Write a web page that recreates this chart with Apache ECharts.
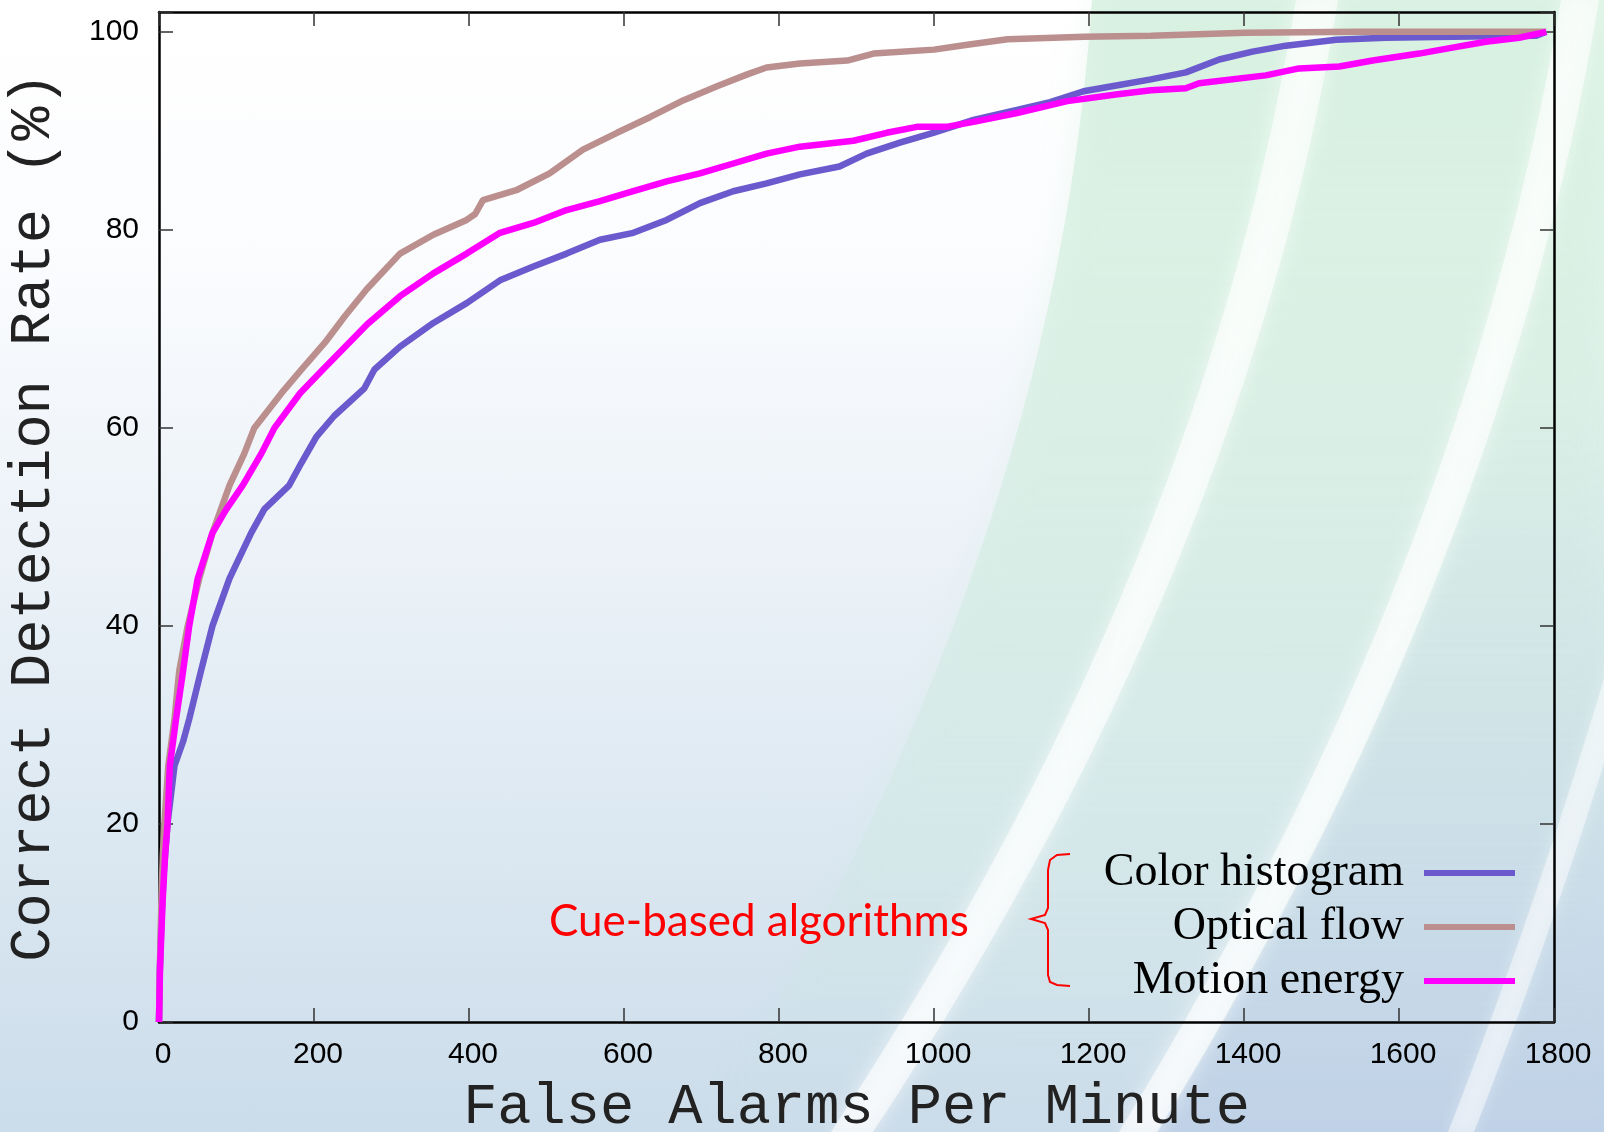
<!DOCTYPE html>
<html>
<head>
<meta charset="utf-8">
<title>Correct detection rate vs false alarms</title>
<script src="https://cdn.jsdelivr.net/npm/echarts@6/dist/echarts.min.js"></script>
<style>
  html, body { margin: 0; padding: 0; }
  #chart {
    width: 1604px;
    height: 1132px;
    background: linear-gradient(to bottom, #ffffff 0%, #fbfcfe 22%, #ecf2f8 48%, #dde9f2 72%, #cbdcea 100%);
  }
</style>
</head>
<body>
<div id="chart"></div>
<script>
// values
const seriesNames = ['Color histogram', 'Optical flow', 'Motion energy']

const colorHistX = [0, 1, 3, 6, 11, 20, 31, 39, 54, 69, 91, 119, 136, 168, 184, 203, 226, 265, 278, 311,
  354, 397, 440, 483, 526, 569, 612, 655, 698, 741, 784, 827, 878, 913, 956, 999, 1051, 1107, 1150, 1193,
  1237, 1280, 1325, 1368, 1411, 1454, 1519, 1583, 1669, 1777, 1790]
const colorHistY = [0, 5, 10, 15, 20, 25.9, 28.3, 30.6, 35.4, 40, 44.8, 49.4, 51.8, 54.2, 56.5, 59.1, 61.2, 64.0, 65.9, 68.2,
  70.6, 72.6, 74.9, 76.3, 77.6, 79.0, 79.7, 81.0, 82.7, 83.9, 84.7, 85.6, 86.4, 87.7, 88.8, 89.8, 91.1, 92.1, 92.9, 94.0,
  94.6, 95.2, 95.9, 97.2, 98.0, 98.6, 99.2, 99.4, 99.5, 99.6, 100]

const opticalX = [0, 1, 3, 5, 7, 12, 20, 26, 37, 52, 69, 91, 110, 123, 158, 184, 214, 240, 268, 311,
  354, 397, 408, 418, 461, 504, 547, 591, 634, 677, 720, 759, 784, 827, 888, 922, 1000, 1043, 1095, 1194,
  1280, 1401, 1550, 1689, 1790]
const opticalY = [0, 5, 12, 17, 20, 25.9, 30.6, 35.4, 40, 44.8, 49.4, 54.2, 57.4, 60, 63.5, 65.9, 68.6, 71.3, 74.0, 77.6,
  79.5, 81.0, 81.6, 83.0, 84.0, 85.7, 88.1, 89.8, 91.4, 93.1, 94.5, 95.7, 96.4, 96.8, 97.1, 97.8, 98.2, 98.7, 99.25, 99.5,
  99.6, 99.9, 100, 100, 100]

const motionX = [0, 1.4, 4.8, 8, 11, 14, 22, 31, 39, 50, 69, 87, 108, 132, 149, 182, 209, 239, 269, 311,
  354, 397, 440, 483, 526, 569, 612, 655, 698, 741, 784, 827, 896, 939, 978, 1016, 1051, 1107, 1172, 1237,
  1280, 1325, 1342, 1428, 1471, 1523, 1566, 1626, 1669, 1712, 1755, 1790]
const motionY = [0, 5.6, 12.4, 17, 20, 25.9, 30.6, 35.4, 40, 44.8, 49.4, 51.8, 54.2, 57.4, 60, 63.5, 65.7, 68.1, 70.5, 73.3,
  75.6, 77.6, 79.7, 80.7, 82.0, 82.9, 83.9, 84.9, 85.7, 86.7, 87.7, 88.4, 89.0, 89.8, 90.4, 90.4, 90.9, 91.8, 93.0, 93.7,
  94.1, 94.3, 94.8, 95.6, 96.3, 96.5, 97.1, 97.8, 98.4, 99.0, 99.4, 100]

const xTicks = { min: 0, max: 1800, interval: 200 }
const yTicks = { min: 0, max: 102, interval: 20 }

const colors = ['#6a5acd', '#bc8f8f', '#ff00ff']

function zip(xs, ys) {
  return xs.map((x, i) => [x, ys[i]])
}

// slide background: curved bands built from a quadratic curve
function bezierPts(p0, p1, p2, t0, t1, dx) {
  const pts = []
  for (let i = 0; i <= 30; i++) {
    const t = t0 + (t1 - t0) * i / 30
    const x = (1 - t) * (1 - t) * p0[0] + 2 * (1 - t) * t * p1[0] + t * t * p2[0]
    const y = (1 - t) * (1 - t) * p0[1] + 2 * (1 - t) * t * p1[1] + t * t * p2[1]
    pts.push([x + dx, y])
  }
  return pts
}
function band(p0, p1, p2, w) {
  return bezierPts(p0, p1, p2, 0, 1, -w / 2).concat(bezierPts(p0, p1, p2, 0, 1, w / 2).reverse())
}

const stripe1 = [[1317, 0], [1225, 566], [852, 1132]]
const stripe2 = [[1580, 0], [1485, 566], [1138, 1132]]
const greenEdge = [[1092, 0], [1054, 566], [700, 1132]]

const chart = echarts.init(document.getElementById('chart'), null, { renderer: 'canvas' })

const lineSeries = [colorHistX, opticalX, motionX].map((xs, i) => ({
  name: seriesNames[i],
  type: 'line',
  data: zip(xs, [colorHistY, opticalY, motionY][i]),
  color: colors[i],
  showSymbol: false,
  symbol: 'none',
  lineStyle: { width: 6.5, color: colors[i] },
  z: 3 + i,
  animation: false
}))

const frameLine = { onZero: false, lineStyle: { color: '#000', width: 2.5 } }
const frameTick = { show: true, inside: true, length: 14, lineStyle: { color: '#333', width: 1.5 } }
const tickFont = { fontFamily: 'Liberation Sans', fontSize: 30, color: '#000' }
const nameFont = { fontFamily: 'Courier New, Liberation Mono, monospace', fontSize: 57, color: '#222' }

chart.setOption({
  backgroundColor: 'transparent',
  animation: false,
  grid: { left: 159, right: 50, top: 12, bottom: 110, containLabel: false, outerBoundsMode: 'none' },
  legend: {
    orient: 'vertical',
    right: 89,
    top: 850,
    padding: 0,
    align: 'right',
    itemWidth: 91,
    itemHeight: 6,
    itemGap: 8,
    icon: 'rect',
    selectedMode: false,
    data: seriesNames,
    textStyle: {
      fontFamily: 'Liberation Serif',
      fontSize: 46,
      lineHeight: 46,
      color: '#000',
      padding: [0, 15, 0, 0]
    }
  },
  xAxis: [{
    type: 'value',
    position: 'bottom',
    min: xTicks.min,
    max: xTicks.max,
    interval: xTicks.interval,
    name: 'False Alarms Per Minute',
    nameLocation: 'middle',
    nameGap: 57,
    nameMoveOverlap: false,
    nameTextStyle: nameFont,
    axisLine: frameLine,
    axisTick: frameTick,
    axisLabel: Object.assign({ margin: 18, padding: [0, 0, 0, 8], formatter: v => String(v) }, tickFont),
    splitLine: { show: false }
  }, {
    type: 'value',
    position: 'top',
    min: xTicks.min,
    max: xTicks.max,
    interval: xTicks.interval,
    axisLine: frameLine,
    axisTick: frameTick,
    axisLabel: { show: false },
    splitLine: { show: false }
  }],
  yAxis: [{
    type: 'value',
    position: 'left',
    min: yTicks.min,
    max: yTicks.max,
    interval: yTicks.interval,
    name: 'Correct Detection Rate (%)',
    nameLocation: 'middle',
    nameGap: 97,
    nameMoveOverlap: false,
    nameTextStyle: nameFont,
    axisLine: Object.assign({ show: true }, frameLine),
    axisTick: frameTick,
    axisLabel: Object.assign({
      margin: 20,
      formatter: v => (v % 20 === 0 ? String(v) : '')
    }, tickFont),
    splitLine: { show: false }
  }, {
    type: 'value',
    position: 'right',
    min: yTicks.min,
    max: yTicks.max,
    interval: yTicks.interval,
    axisLine: Object.assign({ show: true }, frameLine),
    axisTick: frameTick,
    axisLabel: { show: false },
    splitLine: { show: false }
  }],
  graphic: [
    {
      type: 'polygon',
      z: -10,
      silent: true,
      shape: { points: bezierPts(greenEdge[0], greenEdge[1], greenEdge[2], 0, 1, 0).concat([[1604, 1132], [1604, 0]]) },
      style: {
        fill: new echarts.graphic.LinearGradient(0, 0, 0, 1, [
          { offset: 0, color: 'rgba(196,234,210,0.55)' },
          { offset: 0.55, color: 'rgba(196,232,212,0.35)' },
          { offset: 1, color: 'rgba(196,228,220,0.0)' }
        ]),
        shadowBlur: 30,
        shadowColor: 'rgba(196,234,210,0.5)'
      }
    },
    {
      type: 'polygon',
      z: -9,
      silent: true,
      shape: { points: bezierPts(stripe2[0], stripe2[1], stripe2[2], 0.35, 1, 20).concat([[1604, 1132], [1604, 396]]) },
      style: {
        fill: new echarts.graphic.LinearGradient(0, 0, 0, 1, [
          { offset: 0, color: 'rgba(170,190,225,0)' },
          { offset: 1, color: 'rgba(170,190,225,0.35)' }
        ])
      }
    },
    {
      type: 'polygon',
      z: -8,
      silent: true,
      shape: { points: band(stripe1[0], stripe1[1], stripe1[2], 42) },
      style: { fill: 'rgba(255,255,255,0.6)', shadowBlur: 18, shadowColor: 'rgba(255,255,255,0.9)' }
    },
    {
      type: 'polygon',
      z: -8,
      silent: true,
      shape: { points: band(stripe2[0], stripe2[1], stripe2[2], 38) },
      style: { fill: 'rgba(255,255,255,0.6)', shadowBlur: 18, shadowColor: 'rgba(255,255,255,0.9)' }
    },
    {
      type: 'polygon',
      z: -8,
      silent: true,
      shape: { points: band([1640, 600], [1560, 880], [1461, 1132], 26) },
      style: { fill: 'rgba(255,255,255,0.45)', shadowBlur: 14, shadowColor: 'rgba(255,255,255,0.7)' }
    },
    {
      type: 'polyline',
      z: 10,
      silent: true,
      shape: {
        points: [[1070, 854], [1057, 855], [1050, 860], [1048, 870], [1048, 908], [1045, 915], [1031, 919],
          [1045, 923], [1048, 930], [1048, 975], [1050, 982], [1057, 985], [1070, 986]]
      },
      style: { stroke: '#ff0000', lineWidth: 2, fill: null }
    },
    {
      type: 'text',
      z: 10,
      silent: true,
      x: 549,
      y: 922,
      style: {
        text: 'Cue-based algorithms',
        fontFamily: 'Lato',
        fontSize: 44,
        fill: '#ff0000',
        verticalAlign: 'middle',
        align: 'left'
      }
    }
  ],
  series: lineSeries
})
</script>
</body>
</html>
